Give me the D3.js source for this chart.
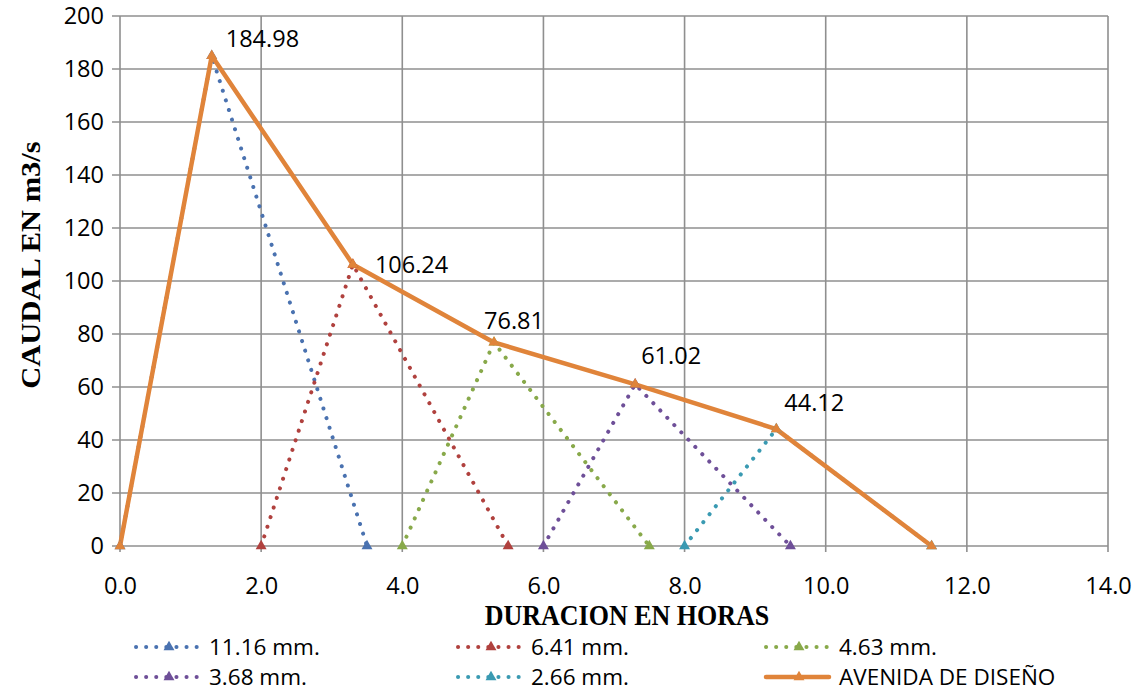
<!DOCTYPE html>
<html>
<head>
<meta charset="utf-8">
<script src="https://cdn.jsdelivr.net/npm/d3@7"></script>
<style>
  html, body { margin: 0; padding: 0; background: #fff; }
  svg { display: block; }
</style>
</head>
<body>
<svg id="chart" width="1146" height="691"></svg>
<script>
// Hidrogramas unitarios triangulares y avenida de diseño
const hours11 = [0, 1.3, 3.5];
const flow11 = [0, 184.98, 0];
const hours6 = [2.0, 3.3, 5.5];
const flow6 = [0, 106.24, 0];
const hours4 = [4.0, 5.3, 7.5];
const flow4 = [0, 76.81, 0];
const hours3 = [6.0, 7.3, 9.5];
const flow3 = [0, 61.02, 0];
const hours2 = [8.0, 9.3, 11.5];
const flow2 = [0, 44.12, 0];
const hoursAvenida = [0, 1.3, 3.3, 5.3, 7.3, 9.3, 11.5];
const flowAvenida = [0, 184.98, 106.24, 76.81, 61.02, 44.12, 0];

const seriesNames = ["11.16 mm.", "6.41 mm.", "4.63 mm.", "3.68 mm.", "2.66 mm.", "AVENIDA DE DISEÑO"];
const seriesColors = ["#4a72b0", "#b0413e", "#88a94a", "#6e4f98", "#3a9ab2", "#e0843a"];

const xTicks = [0, 2, 4, 6, 8, 10, 12, 14];
const yTicks = [0, 20, 40, 60, 80, 100, 120, 140, 160, 180, 200];

const peakLabels = ["184.98", "106.24", "76.81", "61.02", "44.12"];

(function draw() {
  const series = [
    { x: hours11, y: flow11, dotted: true },
    { x: hours6, y: flow6, dotted: true },
    { x: hours4, y: flow4, dotted: true },
    { x: hours3, y: flow3, dotted: true },
    { x: hours2, y: flow2, dotted: true },
    { x: hoursAvenida, y: flowAvenida, dotted: false }
  ].map((s, i) => ({ ...s, name: seriesNames[i], color: seriesColors[i],
    pts: s.x.map((v, j) => [v, s.y[j]]) }));

  const svg = d3.select("#chart");
  const plotLeft = 120, plotRight = 1108, plotTop = 16, plotBottom = 546;

  const x = d3.scaleLinear().domain([0, 14]).range([plotLeft, plotRight]);
  const y = d3.scaleLinear().domain([0, 200]).range([plotBottom, plotTop]);

  const gridColor = "#8f8f8f";
  const sans = "'Open Sans', 'Liberation Sans', sans-serif";
  const serif = "'Liberation Serif', 'Times New Roman', serif";
  const fs = 23.5;

  // grid
  svg.append("g").selectAll("line").data(yTicks).join("line")
    .attr("x1", plotLeft - 8).attr("x2", plotRight)
    .attr("y1", d => y(d)).attr("y2", d => y(d))
    .attr("stroke", gridColor).attr("stroke-width", 1.6);
  svg.append("g").selectAll("line").data(xTicks).join("line")
    .attr("x1", d => x(d)).attr("x2", d => x(d))
    .attr("y1", plotTop).attr("y2", plotBottom + 6)
    .attr("stroke", gridColor).attr("stroke-width", 1.6);

  // tick labels
  const yAxis = d3.axisLeft(y).tickValues(yTicks).tickSize(0).tickPadding(16).tickFormat(d3.format("d"));
  const gy = svg.append("g").attr("transform", `translate(${plotLeft},0)`).call(yAxis);
  gy.select(".domain").remove();
  gy.selectAll("text").attr("font-family", sans).attr("font-size", fs).attr("fill", "#000");

  const xAxis = d3.axisBottom(x).tickValues(xTicks).tickSize(0).tickPadding(31).tickFormat(d3.format(".1f"));
  const gx = svg.append("g").attr("transform", `translate(0,${plotBottom})`).call(xAxis);
  gx.select(".domain").remove();
  gx.selectAll("text").attr("font-family", sans).attr("font-size", fs).attr("fill", "#000");

  // axis titles
  svg.append("text").attr("transform", "translate(627,625) scale(1,1.15)").attr("text-anchor", "middle")
    .attr("font-family", serif).attr("font-weight", "bold").attr("font-size", 26)
    .text("DURACION EN HORAS");
  svg.append("text").attr("transform", "translate(40,265) rotate(-90) scale(1.13,1)").attr("text-anchor", "middle")
    .attr("font-family", serif).attr("font-weight", "bold").attr("font-size", 27)
    .text("CAUDAL EN m3/s");

  const line = d3.line().x(d => x(d[0])).y(d => y(d[1]));
  const tri = d3.symbol().type(d3.symbolTriangle).size(52);
  const dotDash = "0.1 10";

  // series lines
  const gs = svg.append("g");
  series.forEach(s => {
    gs.append("path").datum(s.pts).attr("d", line).attr("fill", "none")
      .attr("stroke", s.color)
      .attr("stroke-width", s.dotted ? 4 : 4.5)
      .attr("stroke-linecap", "round")
      .attr("stroke-linejoin", "round")
      .attr("stroke-dasharray", s.dotted ? dotDash : null);
  });
  // markers
  series.forEach(s => {
    gs.append("g").selectAll("path").data(s.pts).join("path")
      .attr("transform", d => `translate(${x(d[0])},${y(d[1])})`)
      .attr("d", tri).attr("fill", s.color);
  });

  // peak value labels (pixel nudges keep them clear of the lines)
  const peakX = hoursAvenida.slice(1, 6);
  const peakY = flowAvenida.slice(1, 6);
  const nudge = [[14, -17], [22, 0], [-10, -22], [6, -29], [8, -27]];
  svg.append("g").selectAll("text").data(peakLabels).join("text")
    .attr("x", (d, i) => x(peakX[i]) + nudge[i][0])
    .attr("y", (d, i) => y(peakY[i]) + nudge[i][1])
    .attr("dy", "0.36em")
    .attr("font-family", sans).attr("font-size", fs).attr("fill", "#000")
    .text(d => d);

  // legend
  const legendCols = [136, 458, 766];
  const legendRows = [647, 677];
  const lg = svg.append("g");
  series.forEach((s, i) => {
    const cx = legendCols[i % 3], cy = legendRows[Math.floor(i / 3)];
    lg.append("line").attr("x1", cx).attr("x2", cx + 63).attr("y1", cy).attr("y2", cy)
      .attr("stroke", s.color)
      .attr("stroke-width", s.dotted ? 4 : 4.5)
      .attr("stroke-linecap", "round")
      .attr("stroke-dasharray", s.dotted ? dotDash : null);
    lg.append("path").attr("transform", `translate(${cx + 33},${cy})`).attr("d", tri).attr("fill", s.color);
    lg.append("text").attr("x", cx + 73).attr("y", cy).attr("dy", "0.36em")
      .attr("font-family", sans).attr("font-size", 22.5).attr("fill", "#000").text(s.name);
  });
})();
</script>
</body>
</html>
